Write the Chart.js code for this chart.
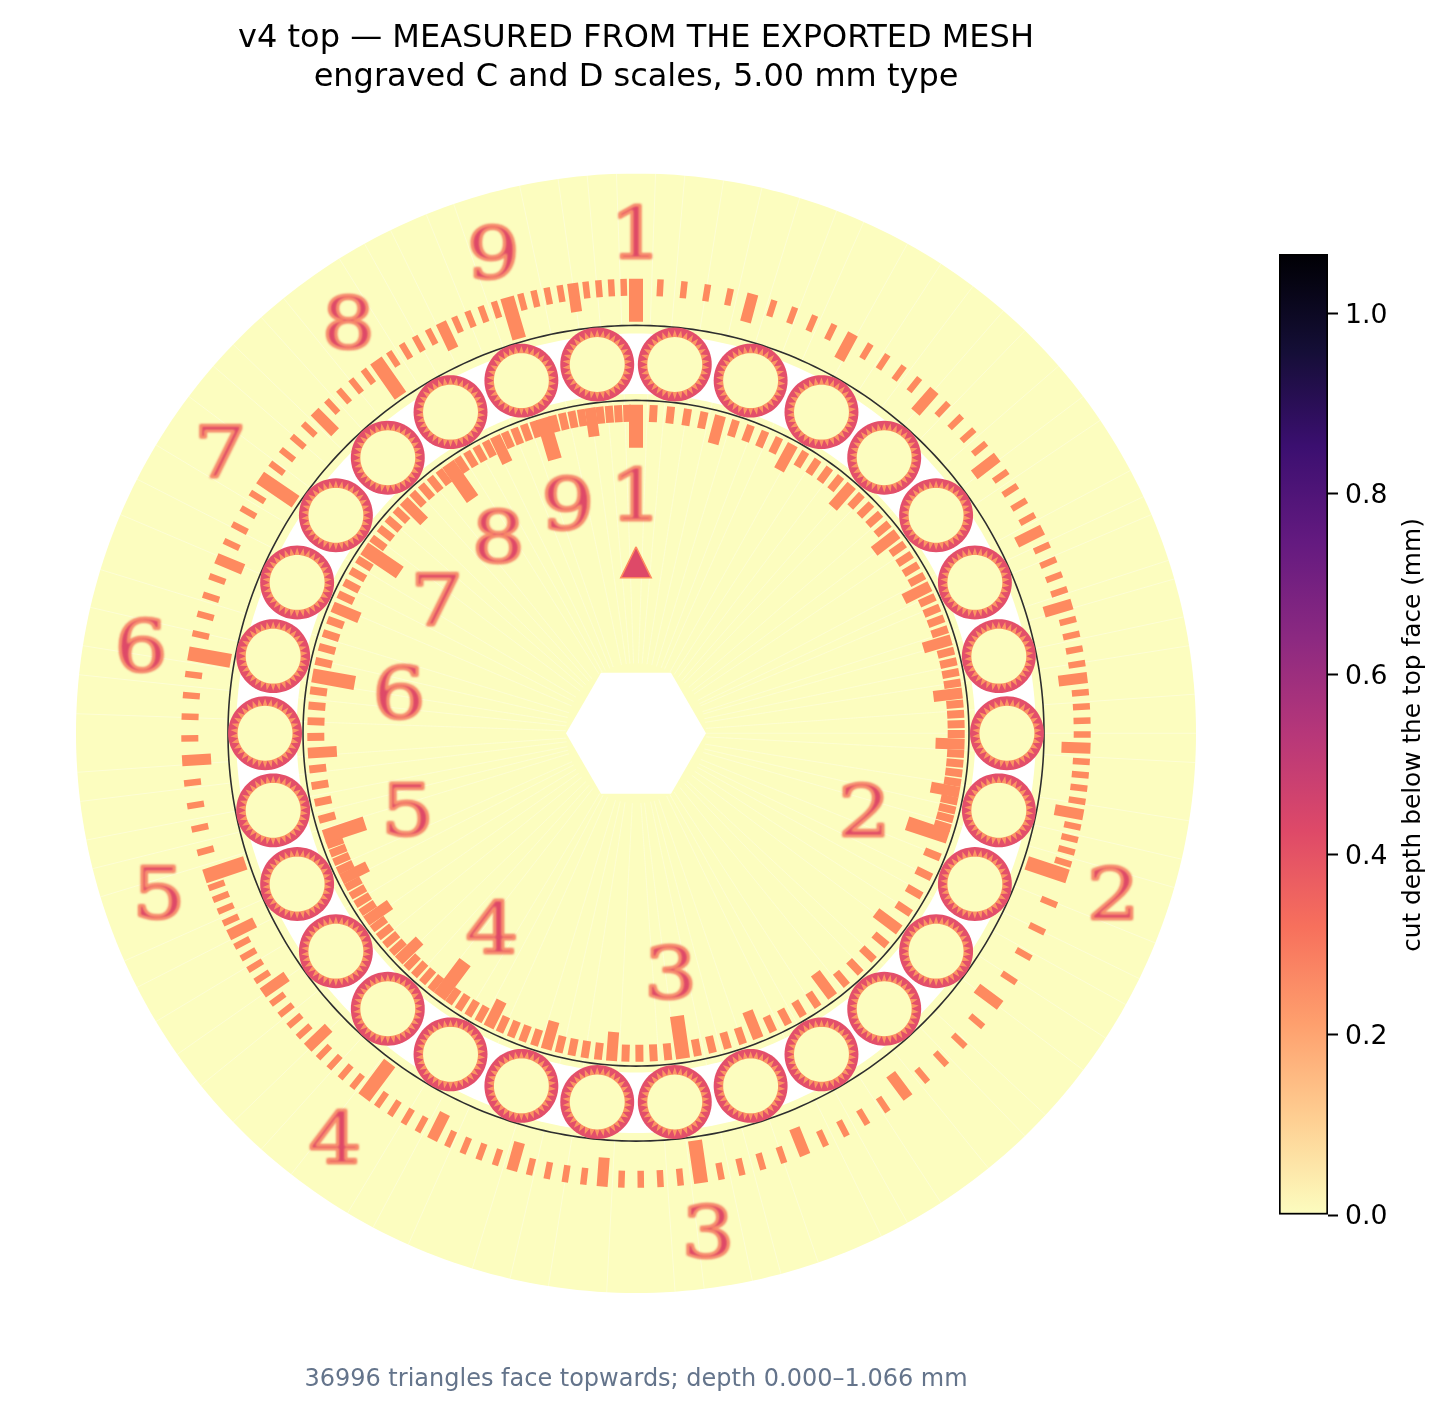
<!DOCTYPE html>
<html>
<head>
<meta charset="utf-8">
<title>v4 top</title>
<script src="https://cdn.jsdelivr.net/npm/chart.js@4/dist/chart.umd.js"></script>
<style>
  html, body { margin: 0; padding: 0; background: #fff; }
  #wrap { position: relative; width: 1447px; height: 1413px; }
  canvas { position: absolute; left: 0; top: 0; }
</style>
</head>
<body>
<div id="wrap">
  <canvas id="disc" width="1447" height="1413"></canvas>
  <canvas id="bar" width="1447" height="1413"></canvas>
</div>
<script>
// Data
const titleLines = ['v4 top — MEASURED FROM THE EXPORTED MESH', 'engraved C and D scales, 5.00 mm type'];
const footNote = '36996 triangles face topwards; depth 0.000–1.066 mm';
const barLabel = 'cut depth below the top face (mm)';
const barTicks = [0, 0.2, 0.4, 0.6, 0.8, 1.0];
const depthRange = [0, 1.066];

const scaleDigits = [1, 2, 3, 4, 5, 6, 7, 8, 9];
const majorValues = [1, 2, 3, 4, 5, 6, 7, 8, 9];
const mediumValues = [1.1, 1.2, 1.3, 1.4, 1.5, 1.6, 1.7, 1.8, 1.9, 2.25, 2.5, 2.75, 3.25, 3.5, 3.75, 4.25, 4.5, 4.75, 5.5, 6.5, 7.5, 8.5, 9.5];
const minorValues = [
  1.02, 1.04, 1.06, 1.08, 1.12, 1.14, 1.16, 1.18, 1.22, 1.24, 1.26, 1.28, 1.32, 1.34, 1.36, 1.38,
  1.42, 1.44, 1.46, 1.48, 1.52, 1.54, 1.56, 1.58, 1.62, 1.64, 1.66, 1.68, 1.72, 1.74, 1.76, 1.78,
  1.82, 1.84, 1.86, 1.88, 1.92, 1.94, 1.96, 1.98,
  2.05, 2.1, 2.15, 2.2, 2.3, 2.35, 2.4, 2.45, 2.55, 2.6, 2.65, 2.7, 2.8, 2.85, 2.9, 2.95,
  3.05, 3.1, 3.15, 3.2, 3.3, 3.35, 3.4, 3.45, 3.55, 3.6, 3.65, 3.7, 3.8, 3.85, 3.9, 3.95,
  4.05, 4.1, 4.15, 4.2, 4.3, 4.35, 4.4, 4.45, 4.55, 4.6, 4.65, 4.7, 4.8, 4.85, 4.9, 4.95,
  5.1, 5.2, 5.3, 5.4, 5.6, 5.7, 5.8, 5.9, 6.1, 6.2, 6.3, 6.4, 6.6, 6.7, 6.8, 6.9,
  7.1, 7.2, 7.3, 7.4, 7.6, 7.7, 7.8, 7.9, 8.1, 8.2, 8.3, 8.4, 8.6, 8.7, 8.8, 8.9,
  9.1, 9.2, 9.3, 9.4, 9.6, 9.7, 9.8, 9.9
];
const ballAngles = [6, 18, 30, 42, 54, 66, 78, 90, 102, 114, 126, 138, 150, 162, 174, 186, 198, 210, 222, 234, 246, 258, 270, 282, 294, 306, 318, 330, 342, 354];
const spokeAngles = [2, 5, 9, 13, 17, 21, 24, 29, 33, 37, 41, 44, 49, 53, 56, 62, 65, 67, 72, 74, 78, 81, 86, 90, 93, 99, 103, 106, 112, 116, 119, 123, 127, 133, 136, 141, 147, 151, 154, 161, 165, 168, 173, 176, 183, 189, 193, 197, 204, 208, 211, 218, 222, 226, 231, 235, 239, 243, 246, 253, 256, 259, 263, 266, 272, 276, 279, 283, 287, 293, 297, 301, 307, 311, 314, 318, 321, 328, 331, 334, 338, 341, 348, 352, 355, 358];
const hexAngles = [30, 90, 150, 210, 270, 330];
const arrowAngles = [0, 5.6, -5.6];

// Geometry in mm, the disc is 100 mm across
const R_DISC = 50, R_GROOVE_OUT = 36.43, R_WHITE_OUT = 35.71, R_BALLS = 33.12, R_WHITE_IN = 30.31, R_GROOVE_IN = 29.73;
const BALL_OUT = 3.3, BALL_IN = 2.45, BALL_TOOTH = 3.1, BALL_TEETH = 34;
const R_HEX = 6.25;
const R_TICK_OUT = 40.6, R_TICK_IN = 29.35;
const LEN_MINOR = 1.52, LEN_MEDIUM = 2.59, LEN_MAJOR = 3.84;
const R_LABEL_OUT = 44.9, R_LABEL_IN = 21.5;

const YELLOW = '#fcfdbf', ORANGE = '#fe8a5f', RED = '#de4968', BALL_RED = '#e34f6a', BALL_ORANGE = '#fb9562';
const MAGMA_R = ['#fcfdbf', '#fecf92', '#fe9f6d', '#f7705c', '#de4968', '#b73779', '#8c2981', '#641a80', '#3b0f70', '#140e36', '#000004'];
// a dash list keeps Chart.js off its fast line path, which merges points in one pixel column
const NO_FAST_PATH = [100000];

const rad = d => d * Math.PI / 180;
const polar = (deg, r) => ({ x: r * Math.sin(rad(deg)), y: r * Math.cos(rad(deg)) });
const logAngle = v => Math.log10(v) * 360;

function circle(r, cx = 0, cy = 0, n = 360) {
  const pts = [];
  for (let i = 0; i <= n; i++) {
    const a = i / n * 2 * Math.PI;
    pts.push({ x: cx + r * Math.cos(a), y: cy + r * Math.sin(a) });
  }
  return pts;
}

function star(rIn, rOut, cx, cy, teeth) {
  const pts = [];
  for (let i = 0; i <= teeth * 2; i++) {
    const a = i / teeth * Math.PI, r = i % 2 ? rOut : rIn;
    pts.push({ x: cx + r * Math.cos(a), y: cy + r * Math.sin(a) });
  }
  return pts;
}

// one dataset with gaps, every tick is a short thick segment
function tickLine(values, rIn, rOut) {
  const pts = [];
  values.forEach(v => {
    pts.push(polar(logAngle(v), rIn), polar(logAngle(v), rOut), { x: null, y: null });
  });
  return pts;
}

const datasets = [];
const shape = (data, color, extra) => datasets.push(Object.assign({ data, showLine: true, fill: 'shape', backgroundColor: color, borderWidth: 0, borderDash: NO_FAST_PATH, pointRadius: 0, tension: 0 }, extra));
const stroke = (data, color, width, soft) => datasets.push({ data, showLine: true, fill: false, borderColor: color, borderWidth: width, borderDash: NO_FAST_PATH, pointRadius: 0, tension: 0, soft });

shape(circle(R_DISC), YELLOW);

// faint streaks left by the triangulation
const spokes = (rIn, rOut) => {
  const pts = [];
  spokeAngles.forEach(a => pts.push(polar(a, rIn), polar(a, rOut), { x: null, y: null }));
  return pts;
};
stroke(spokes(R_GROOVE_OUT, R_DISC), 'rgba(255,255,255,0.35)', 1);

// ring the balls run in
shape(circle(R_WHITE_OUT), '#ffffff');
shape(circle(R_WHITE_IN), YELLOW);
stroke(spokes(R_HEX, R_WHITE_IN), 'rgba(255,255,255,0.3)', 1);

// centre hexagon
const hex = hexAngles.map(a => polar(a, R_HEX));
shape(hex.concat([hex[0]]), '#ffffff');

// index arrow
const arrow = [polar(arrowAngles[0], 16.65), polar(arrowAngles[1], 13.95), polar(arrowAngles[2], 13.95), polar(arrowAngles[0], 16.65)];
shape(arrow, RED, { borderColor: ORANGE, borderWidth: 1.5 });

// C scale outside the balls, D scale inside
stroke(tickLine(minorValues, R_TICK_OUT - LEN_MINOR, R_TICK_OUT), ORANGE, 6.5, true);
stroke(tickLine(mediumValues, R_TICK_OUT - LEN_MEDIUM, R_TICK_OUT), ORANGE, 11, true);
stroke(tickLine(majorValues, R_TICK_OUT - LEN_MAJOR, R_TICK_OUT), ORANGE, 14, true);
stroke(tickLine(minorValues, R_TICK_IN - LEN_MINOR, R_TICK_IN), ORANGE, 8, true);
stroke(tickLine(mediumValues, R_TICK_IN - LEN_MEDIUM, R_TICK_IN), ORANGE, 11, true);
stroke(tickLine(majorValues, R_TICK_IN - LEN_MAJOR, R_TICK_IN), ORANGE, 14, true);

// groove edges
stroke(circle(R_GROOVE_OUT), '#2e2e2e', 1.6);
stroke(circle(R_GROOVE_IN), '#2e2e2e', 1.6);

// balls: dark ring, orange teeth, flat middle
ballAngles.forEach(a => {
  const c = polar(a, R_BALLS);
  shape(circle(BALL_OUT, c.x, c.y, 72), BALL_RED);
  shape(star(BALL_IN, BALL_TOOTH, c.x, c.y, BALL_TEETH), BALL_ORANGE);
  shape(circle(BALL_IN, c.x, c.y, 72), YELLOW);
});

// first dataset is painted last in Chart.js, so flip the paint order
datasets.reverse();

// the reference is a rasterised mesh, ticks have soft edges
const softTicks = {
  id: 'softTicks',
  beforeDatasetDraw(chart, args) {
    if (chart.data.datasets[args.index].soft) {
      chart.ctx.save();
      chart.ctx.filter = 'blur(0.7px)';
    }
  },
  afterDatasetDraw(chart, args) {
    if (chart.data.datasets[args.index].soft) chart.ctx.restore();
  }
};

const digitLabels = {
  id: 'digitLabels',
  afterDatasetsDraw(chart) {
    const { ctx, scales: { x, y } } = chart;
    ctx.save();
    ctx.font = '78px "DejaVu Serif"';
    ctx.textAlign = 'center';
    ctx.textBaseline = 'alphabetic';
    ctx.lineJoin = 'round';
    ctx.filter = 'blur(0.9px)';
    [R_LABEL_OUT, R_LABEL_IN].forEach(r => {
      scaleDigits.forEach(d => {
        const p = polar(logAngle(d), r);
        const px = x.getPixelForValue(p.x), py = y.getPixelForValue(p.y);
        const m = ctx.measureText(String(d));
        const base = (m.actualBoundingBoxAscent - m.actualBoundingBoxDescent) / 2;
        ctx.save();
        ctx.translate(px, py);
        ctx.scale(1.07, 0.92);
        ctx.fillStyle = RED;
        ctx.fillText(String(d), 0, base);
        ctx.strokeStyle = '#f98a66';
        ctx.lineWidth = 2.6;
        ctx.strokeText(String(d), 0, base);
        ctx.restore();
      });
    });
    ctx.restore();
  }
};

Chart.defaults.font.family = '"DejaVu Sans"';
Chart.defaults.animation = false;

new Chart(document.getElementById('disc'), {
  type: 'scatter',
  data: { datasets },
  plugins: [softTicks, digitLabels],
  options: {
    responsive: false,
    events: [],
    layout: { padding: { left: 76, right: 251, top: 0, bottom: 0 } },
    scales: {
      x: { type: 'linear', display: false, min: -R_DISC, max: R_DISC },
      y: { type: 'linear', display: false, min: -R_DISC, max: R_DISC }
    },
    plugins: {
      legend: { display: false },
      tooltip: { enabled: false },
      title: {
        display: true, fullSize: false, text: titleLines, color: '#000000',
        font: { size: 32, weight: 'normal', lineHeight: 39 / 32 },
        padding: { top: 19, bottom: 76.5 }
      },
      subtitle: {
        display: true, fullSize: false, position: 'bottom', text: footNote, color: '#64748b',
        font: { size: 24, weight: 'normal', lineHeight: 1.2 },
        padding: { top: 72.5, bottom: 18.7 }
      }
    }
  }
});

// colour bar
const barTitle = {
  id: 'barTitle',
  afterDraw(chart) {
    const { ctx } = chart;
    ctx.save();
    ctx.translate(1414, 735);
    ctx.rotate(-Math.PI / 2);
    ctx.font = '24.8px "DejaVu Sans"';
    ctx.fillStyle = '#000';
    ctx.textAlign = 'center';
    ctx.textBaseline = 'middle';
    ctx.fillText(barLabel, 0, 0);
    ctx.restore();
  }
};

new Chart(document.getElementById('bar'), {
  type: 'bar',
  data: {
    labels: [''],
    datasets: [{
      data: [depthRange],
      barPercentage: 1,
      categoryPercentage: 1,
      borderColor: '#000',
      borderWidth: 2,
      borderSkipped: false,
      backgroundColor(c) {
        const s = c.chart.scales.y;
        const y0 = s ? s.getPixelForValue(depthRange[0]) : NaN;
        const y1 = s ? s.getPixelForValue(depthRange[1]) : NaN;
        if (!isFinite(y0) || !isFinite(y1)) return YELLOW;
        const g = c.chart.ctx.createLinearGradient(0, y0, 0, y1);
        MAGMA_R.forEach((col, i) => g.addColorStop(i / (MAGMA_R.length - 1), col));
        return g;
      }
    }]
  },
  plugins: [barTitle],
  options: {
    responsive: false,
    events: [],
    layout: { padding: { left: 1279, right: 0, top: 254, bottom: 198 } },
    scales: {
      x: { display: false },
      y: {
        position: 'right',
        min: depthRange[0], max: depthRange[1],
        afterFit(s) { s.width = 119; },
        afterBuildTicks(s) { s.ticks = barTicks.map(value => ({ value })); },
        border: { display: false },
        grid: { drawOnChartArea: false, drawTicks: true, tickLength: 10, tickColor: '#000', tickWidth: 2 },
        ticks: { color: '#000', font: { size: 26.67 }, padding: 7, labelOffset: 2.5, callback: v => v.toFixed(1) }
      }
    },
    plugins: { legend: { display: false }, tooltip: { enabled: false }, title: { display: false } }
  }
});
</script>
</body>
</html>
